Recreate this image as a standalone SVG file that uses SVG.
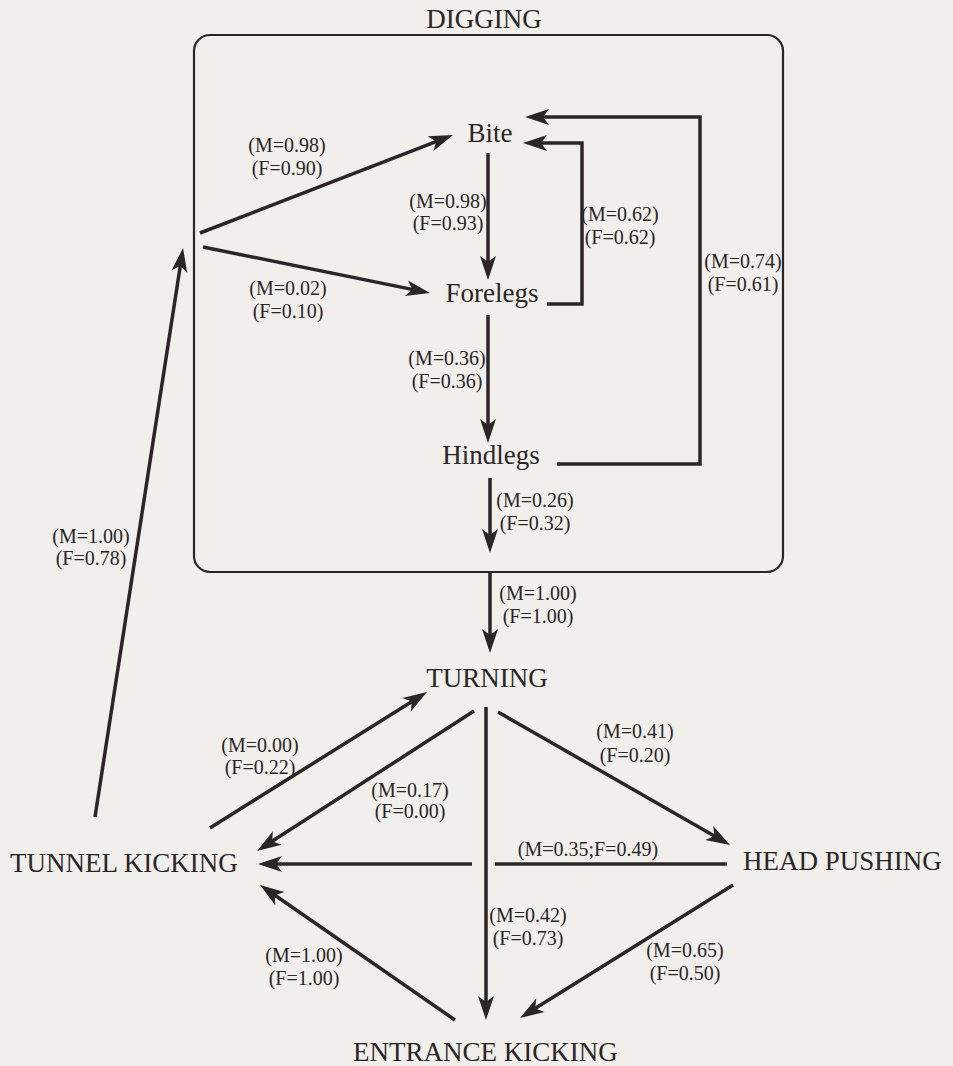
<svg xmlns="http://www.w3.org/2000/svg" width="953" height="1066" viewBox="0 0 953 1066">
<style>
.bg{fill:#f0efeb}
.node{font-family:"Liberation Serif","Times New Roman",serif;font-size:27px;fill:#2b2527}
.lbl{font-family:"Liberation Serif","Times New Roman",serif;font-size:20px;fill:#2b2527;text-anchor:middle}
.c{stroke:#2b2527;stroke-width:3.5;fill:none;stroke-linecap:butt;stroke-linejoin:miter}
.arr{marker-end:url(#ah)}
.box{stroke:#2b2527;stroke-width:2.2;fill:none}
</style>
<defs>
<marker id="ah" markerUnits="userSpaceOnUse" markerWidth="40" markerHeight="24" viewBox="-30 -12 40 24" refX="-12" refY="0" orient="auto">
<path d="M0,0 L-24,-8 L-18,0 L-24,8 Z" fill="#2b2527"/>
</marker>
</defs>
<rect class="bg" x="0" y="0" width="953" height="1066"/>

<g id="digging">
<rect class="box" x="194" y="35" width="589" height="537" rx="16" ry="16"/>
<text class="node" x="484" y="28" text-anchor="middle">DIGGING</text>
</g>
<g id="bite"><text class="node" x="490" y="142" text-anchor="middle">Bite</text></g>
<g id="forelegs"><text class="node" x="492" y="302" text-anchor="middle">Forelegs</text></g>
<g id="hindlegs"><text class="node" x="491" y="464" text-anchor="middle">Hindlegs</text></g>
<g id="turning"><text class="node" x="487" y="687" text-anchor="middle">TURNING</text></g>
<g id="tunnel-kicking"><text class="node" x="10" y="872">TUNNEL KICKING</text></g>
<g id="head-pushing"><text class="node" x="743" y="870">HEAD PUSHING</text></g>
<g id="entrance-kicking"><text class="node" x="353" y="1061">ENTRANCE KICKING</text></g>

<g id="connectors">
<line class="c arr" x1="200" y1="233" x2="441.8" y2="139.3"/>
<line class="c arr" x1="203" y1="247" x2="418.2" y2="290.6"/>
<line class="c arr" x1="488" y1="153" x2="488" y2="268"/>
<line class="c arr" x1="488" y1="315" x2="488" y2="431"/>
<line class="c arr" x1="490" y1="478" x2="490" y2="541"/>
<line class="c arr" x1="490" y1="573" x2="490" y2="641"/>
<polyline class="c arr" points="547,304 582,304 582,143 535,143"/>
<polyline class="c arr" points="557,464 700,464 700,117 537,117"/>
<line class="c arr" x1="95" y1="817" x2="181.2" y2="259.9"/>
<line class="c arr" x1="210" y1="828" x2="416.8" y2="698.4"/>
<line class="c arr" x1="474" y1="711" x2="267.1" y2="844.5"/>
<line class="c arr" x1="498" y1="712" x2="719.6" y2="839"/>
<line class="c arr" x1="486" y1="707" x2="486" y2="1008"/>
<line class="c" x1="727" y1="864" x2="495" y2="864"/>
<line class="c arr" x1="472" y1="864" x2="270" y2="864"/>
<line class="c arr" x1="733" y1="885" x2="530.2" y2="1011.6"/>
<line class="c arr" x1="455" y1="1020" x2="269.9" y2="891.8"/>

<text class="lbl" x="287" y="152">(M=0.98)</text><text class="lbl" x="287" y="175">(F=0.90)</text>
<text class="lbl" x="448" y="208">(M=0.98)</text><text class="lbl" x="448" y="230">(F=0.93)</text>
<text class="lbl" x="288" y="295">(M=0.02)</text><text class="lbl" x="288" y="318">(F=0.10)</text>
<text class="lbl" x="620" y="221">(M=0.62)</text><text class="lbl" x="620" y="244">(F=0.62)</text>
<text class="lbl" x="743" y="268">(M=0.74)</text><text class="lbl" x="743" y="291">(F=0.61)</text>
<text class="lbl" x="447" y="365">(M=0.36)</text><text class="lbl" x="447" y="388">(F=0.36)</text>
<text class="lbl" x="535" y="507">(M=0.26)</text><text class="lbl" x="535" y="530">(F=0.32)</text>
<text class="lbl" x="538" y="600">(M=1.00)</text><text class="lbl" x="538" y="623">(F=1.00)</text>
<text class="lbl" x="91" y="543">(M=1.00)</text><text class="lbl" x="91" y="565">(F=0.78)</text>
<text class="lbl" x="260" y="752">(M=0.00)</text><text class="lbl" x="260" y="774">(F=0.22)</text>
<text class="lbl" x="410" y="797">(M=0.17)</text><text class="lbl" x="410" y="818">(F=0.00)</text>
<text class="lbl" x="635" y="738">(M=0.41)</text><text class="lbl" x="635" y="762">(F=0.20)</text>
<text class="lbl" x="588" y="856">(M=0.35;F=0.49)</text>
<text class="lbl" x="528" y="922">(M=0.42)</text><text class="lbl" x="528" y="945">(F=0.73)</text>
<text class="lbl" x="685" y="957">(M=0.65)</text><text class="lbl" x="685" y="980">(F=0.50)</text>
<text class="lbl" x="304" y="962">(M=1.00)</text><text class="lbl" x="304" y="985">(F=1.00)</text>
</g>
</svg>
